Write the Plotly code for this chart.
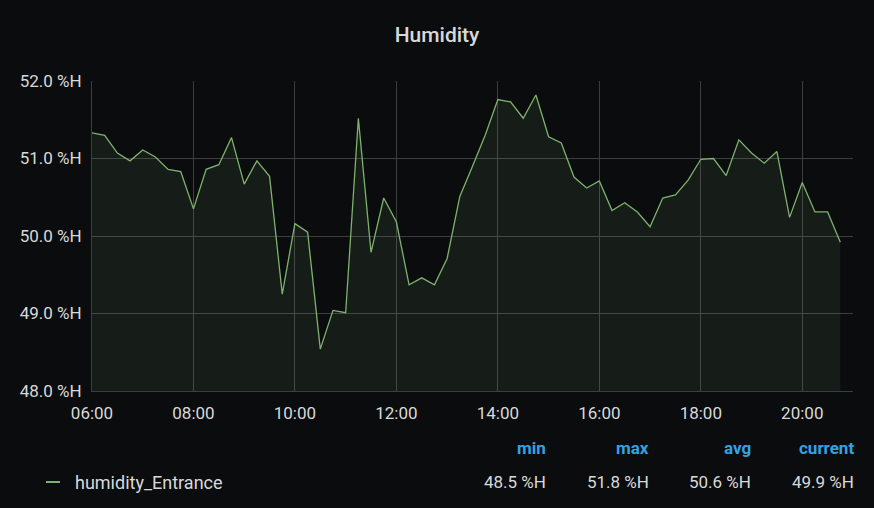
import numpy as np
import pandas as pd
import plotly.graph_objects as go

# humidity readings every 15 minutes, 06:00 -> 20:45
start_time = "2020-01-01 06:00"
step = "15min"
humidity = [
  51.33, 51.30, 51.07, 50.97, 51.11, 51.02, 50.86, 50.83,
  50.35, 50.86, 50.92, 51.27, 50.67, 50.97, 50.77, 49.25,
  50.16, 50.05, 48.54, 49.04, 49.01, 51.52, 49.79, 50.49,
  50.18, 49.37, 49.46, 49.37, 49.71, 50.51, 50.90, 51.30,
  51.76, 51.73, 51.52, 51.82, 51.28, 51.20, 50.76, 50.62,
  50.71, 50.33, 50.43, 50.31, 50.12, 50.49, 50.53, 50.72,
  50.99, 51.00, 50.78, 51.24, 51.07, 50.94, 51.09, 50.24,
  50.69, 50.31, 50.31, 49.92,
]
series_name = "humidity_Entrance"
stat_names = ["min", "max", "avg", "current"]

y_ticks = [48, 49, 50, 51, 52]
y_tick_text = ["%.1f %%H" % v for v in y_ticks]

times = pd.date_range(start_time, periods=len(humidity), freq=step)
h = np.array(humidity)
stat_values = [h.min(), h.max(), h.mean(), h[-1]]

W, H = 874, 508
L, R, T, B = 92, 21, 81, 117

BG = "#0b0c0e"
GRID = "#3d3e40"
TEXT = "#d8d9da"
GREEN = "#7eb26d"
BLUE = "#33a2e5"
FONT = "Roboto, 'Open Sans', sans-serif"


# pixel position -> paper coords (paper = plot area)
def px(x):
  return (x - L) / (W - L - R)

def py(y):
  return (H - B - y) / (H - T - B)


def plot():
  fig = go.Figure()
  fig.add_trace(go.Scatter(
    x=times, y=humidity, name=series_name, mode="lines",
    line=dict(color=GREEN, width=1.3),
    fill="tozeroy", fillcolor="rgba(126,178,109,0.10)",
    showlegend=False,
  ))

  annotations = []
  right_edges = [548, 651, 753, 856]
  for name, val, xr in zip(stat_names, stat_values, right_edges):
    annotations.append(dict(
      x=px(xr), y=py(448), xref="paper", yref="paper",
      xanchor="right", yanchor="middle", showarrow=False,
      text="<b>%s</b>" % name, font=dict(color=BLUE, size=17, family=FONT)))
    annotations.append(dict(
      x=px(xr), y=py(482), xref="paper", yref="paper",
      xanchor="right", yanchor="middle", showarrow=False,
      text="%.1f %%H" % val, font=dict(color=TEXT, size=17, family=FONT)))
  annotations.append(dict(
    x=px(73), y=py(482), xref="paper", yref="paper",
    xanchor="left", yanchor="middle", showarrow=False,
    text=series_name, font=dict(color=TEXT, size=18, family=FONT)))

  fig.update_layout(
    width=W, height=H,
    paper_bgcolor=BG, plot_bgcolor=BG,
    font=dict(family=FONT, color=TEXT, size=17),
    margin=dict(l=L, r=R, t=T, b=B),
    title=dict(text="Humidity", x=0.5, xanchor="center", y=1 - 35 / H,
               yanchor="middle",
               font=dict(size=21, color=TEXT, family=FONT, weight=500)),
    xaxis=dict(
      range=[pd.Timestamp("2020-01-01 06:00"), pd.Timestamp("2020-01-01 21:00")],
      dtick=2 * 3600 * 1000, tick0="2020-01-01 06:00", tickformat="%H:%M",
      showgrid=True, gridcolor=GRID, gridwidth=1,
      showline=True, linecolor=GRID, zeroline=False,
      ticks="", ticklabelstandoff=7, tickfont=dict(size=17, color=TEXT),
    ),
    yaxis=dict(
      range=[48, 52], tickvals=y_ticks, ticktext=y_tick_text,
      showgrid=True, gridcolor=GRID, gridwidth=1,
      showline=True, linecolor=GRID, zeroline=False,
      ticks="", ticklabelstandoff=6, tickfont=dict(size=17, color=TEXT),
    ),
    annotations=annotations,
    shapes=[dict(type="line", xref="paper", yref="paper",
                 x0=px(46), x1=px(60), y0=py(482), y1=py(482),
                 line=dict(color=GREEN, width=2))],
  )
  fig.write_html(
    "out.html",
    config={"displayModeBar": False},
    post_script="document.body.style.margin='0';"
                "document.body.style.background='%s';" % BG,
  )


if __name__ == "__main__":
  plot()
